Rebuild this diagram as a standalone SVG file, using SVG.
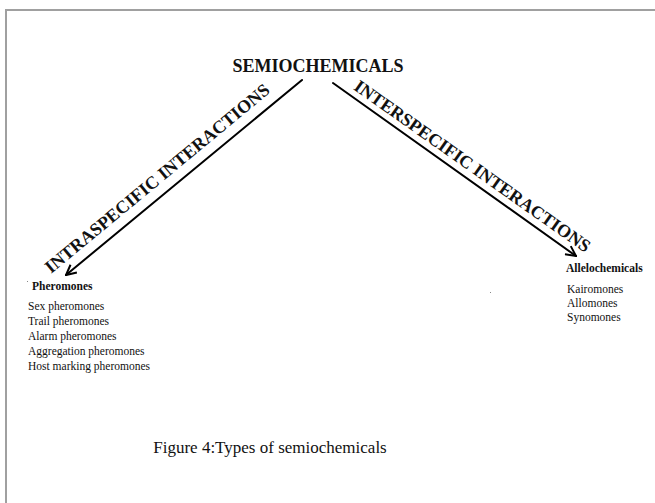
<svg xmlns="http://www.w3.org/2000/svg" width="655" height="503" viewBox="0 0 655 503">
<style>
.frame{fill:none;stroke:#a0a0a0;stroke-width:2}
.ln{stroke:#000;stroke-width:2;fill:none;stroke-linecap:round}
.t{font-family:"Liberation Serif","Times New Roman",serif;fill:#111}
.b{font-weight:bold}
.lbl{font-size:18px;font-weight:bold}
.item{font-size:11.5px}
</style>
<defs>
<marker id="arr" viewBox="0 0 12 12" refX="11" refY="6" markerWidth="12" markerHeight="12" markerUnits="userSpaceOnUse" orient="auto">
<path d="M1,1 L11,6 L1,11" fill="none" stroke="#000" stroke-width="2"/>
</marker>
</defs>
<rect width="655" height="503" fill="#fff"/>
<path class="frame" d="M6,503 V10 H655"/>
<g id="connectors">
<line class="ln" x1="302" y1="80" x2="66" y2="275" marker-end="url(#arr)"/>
<line class="ln" x1="333" y1="83" x2="576" y2="256" marker-end="url(#arr)"/>
<text class="t lbl" text-anchor="middle" transform="translate(161,183) rotate(-39.6)">INTRASPECIFIC INTERACTIONS</text>
<text class="t lbl" text-anchor="middle" transform="translate(469,171) rotate(35.2)">INTERSPECIFIC INTERACTIONS</text>
</g>
<g id="semiochemicals">
<text class="t b" x="318" y="72" font-size="18" text-anchor="middle">SEMIOCHEMICALS</text>
</g>
<g id="pheromones">
<text class="t b" x="32" y="290" font-size="11.5">Pheromones</text>
<text class="t item" x="28" y="310">Sex pheromones</text>
<text class="t item" x="28" y="325">Trail pheromones</text>
<text class="t item" x="28" y="340">Alarm pheromones</text>
<text class="t item" x="28" y="355">Aggregation pheromones</text>
<text class="t item" x="28" y="370">Host marking pheromones</text>
</g>
<g id="allelochemicals">
<text class="t b" x="566" y="272" font-size="11.5">Allelochemicals</text>
<text class="t item" x="567" y="293">Kairomones</text>
<text class="t item" x="567" y="307">Allomones</text>
<text class="t item" x="567" y="321">Synomones</text>
</g>
<g id="caption">
<text class="t" x="270" y="453" font-size="17" text-anchor="middle" fill="#333">Figure 4:Types of semiochemicals</text>
</g>
<rect x="27" y="281" width="1" height="1" fill="#888"/>
<rect x="490" y="292" width="1" height="1" fill="#888"/>
</svg>
